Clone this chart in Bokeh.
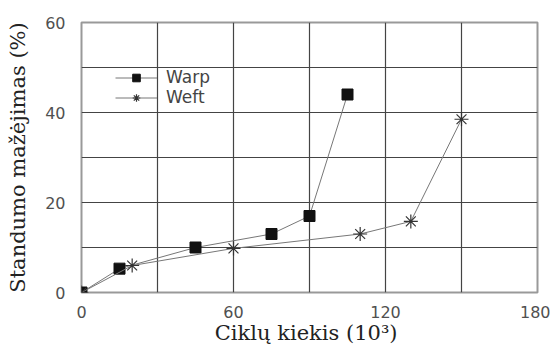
from bokeh.plotting import figure
from bokeh.models import Range1d, FixedTicker, Legend, LegendItem
from bokeh.embed import file_html
from bokeh.resources import INLINE

warp_x = [0, 15, 45, 75, 90, 105]
warp_y = [0, 5.3, 10, 13, 17, 44]
weft_x = [0, 20, 60, 110, 130, 150]
weft_y = [0, 6, 9.8, 13, 15.8, 38.5]
x_ticks = [0, 30, 60, 90, 120, 150, 180]
x_labels = {0: "0", 30: "", 60: "60", 90: "", 120: "120", 150: "", 180: "180"}
y_ticks = [0, 10, 20, 30, 40, 50, 60]
y_labels = {0: "0", 10: "", 20: "20", 30: "", 40: "40", 50: "", 60: "60"}

W, H = 550, 347
p = figure(width=W, height=H, output_backend="svg", toolbar_location=None,
           x_range=Range1d(0, 180), y_range=Range1d(0, 60),
           min_border_left=81, min_border_right=13, min_border_top=22, min_border_bottom=54)
p.background_fill_color = "white"
p.border_fill_color = "white"
p.outline_line_color = "#999999"
p.outline_line_width = 2

for ax, ticks, labels in ((p.xaxis, x_ticks, x_labels), (p.yaxis, y_ticks, y_labels)):
    ax.ticker = FixedTicker(ticks=ticks)
    ax.major_label_overrides = labels
    ax.axis_line_color = None
    ax.major_tick_line_color = None
    ax.minor_tick_line_color = None
    ax.major_label_text_font = "DejaVu Sans"
    ax.major_label_text_font_size = "16px"
    ax.major_label_text_color = "#505050"
    ax.axis_label_text_font = "DejaVu Serif"
    ax.axis_label_text_font_size = "21px"
    ax.axis_label_text_font_style = "normal"
    ax.axis_label_text_color = "#222222"
p.xaxis.major_label_standoff = 7
p.yaxis.major_label_standoff = 10
p.xaxis.axis_label = "Ciklų kiekis  (10³)"
p.yaxis.axis_label = "Standumo mažėjimas (%)"
p.xaxis.axis_label_standoff = 0
p.yaxis.axis_label_standoff = 12

p.xgrid.ticker = FixedTicker(ticks=x_ticks)
p.ygrid.ticker = FixedTicker(ticks=y_ticks)
for g in (p.xgrid, p.ygrid):
    g.grid_line_color = "#444444"
    g.grid_line_width = 1.2

wl = p.line(warp_x, warp_y, line_color="#777777", line_width=1)
ws = p.scatter(warp_x, warp_y, marker="square", size=11, fill_color="#111111", line_color="#111111")
el = p.line(weft_x, weft_y, line_color="#777777", line_width=1)
es = p.scatter(weft_x, weft_y, marker="asterisk", size=14, line_color="#333333", line_width=1.2)

legend = Legend(items=[LegendItem(label="Warp", renderers=[wl, ws]),
                       LegendItem(label="Weft", renderers=[el, es])],
                location=(34, 185), glyph_width=42, glyph_height=19, label_height=19,
                spacing=0, padding=0, margin=0, label_standoff=9,
                background_fill_alpha=0, border_line_color=None,
                label_text_font="DejaVu Sans", label_text_font_size="17px",
                label_text_color="#444444")
p.add_layout(legend)

open("out.html", "w").write(file_html(p, INLINE))
